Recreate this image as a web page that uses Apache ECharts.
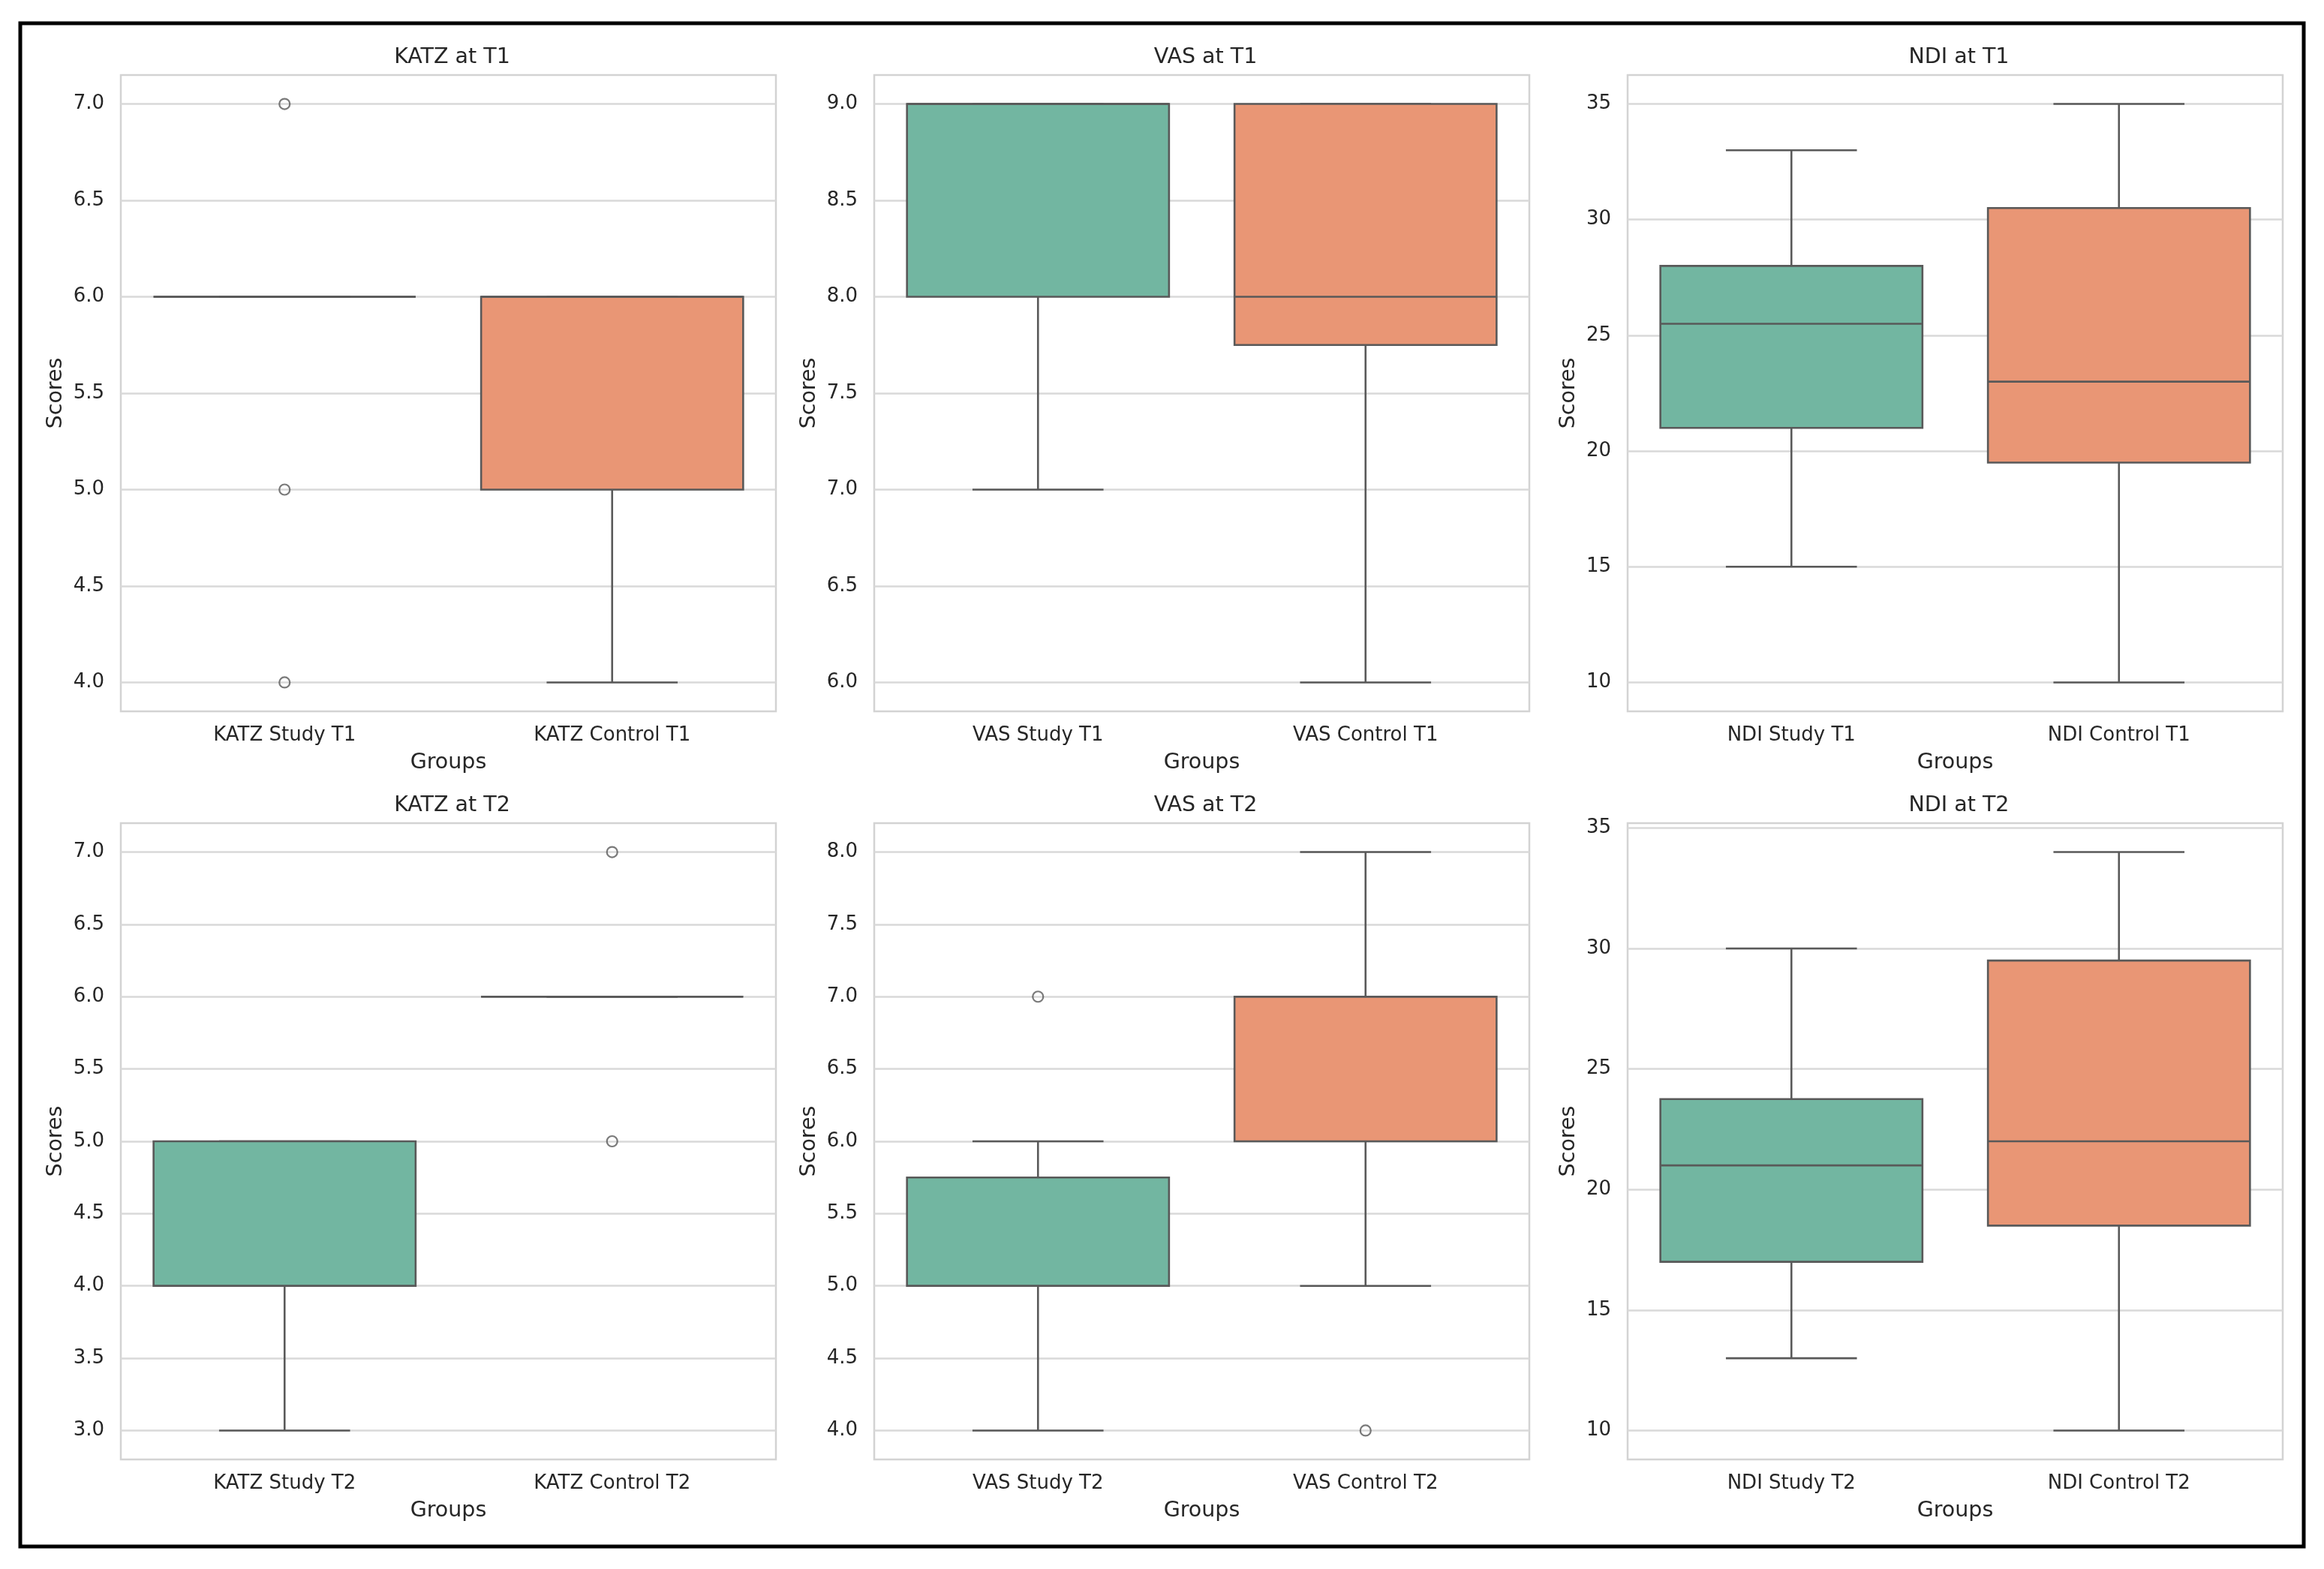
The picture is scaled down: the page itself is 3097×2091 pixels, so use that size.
<!DOCTYPE html>
<html>
<head>
<meta charset="utf-8">
<script src="https://cdn.jsdelivr.net/npm/echarts@6/dist/echarts.min.js"></script>
<style>
html,body{margin:0;padding:0;background:#fff;}
#chart{width:3097px;height:2091px;}
</style>
</head>
<body>
<div id="chart"></div>
<script>
// ---------------- DATA ----------------
const panelTitles = ['KATZ at T1', 'VAS at T1', 'NDI at T1', 'KATZ at T2', 'VAS at T2', 'NDI at T2'];

const katzT1Categories = ['KATZ Study T1', 'KATZ Control T1'];
const vasT1Categories  = ['VAS Study T1', 'VAS Control T1'];
const ndiT1Categories  = ['NDI Study T1', 'NDI Control T1'];
const katzT2Categories = ['KATZ Study T2', 'KATZ Control T2'];
const vasT2Categories  = ['VAS Study T2', 'VAS Control T2'];
const ndiT2Categories  = ['NDI Study T2', 'NDI Control T2'];

// box stats per group: [lower whisker, Q1, median, Q3, upper whisker]
const katzT1Boxes = [[6, 6, 6, 6, 6], [4, 5, 6, 6, 6]];
const vasT1Boxes  = [[7, 8, 9, 9, 9], [6, 7.75, 8, 9, 9]];
const ndiT1Boxes  = [[15, 21, 25.5, 28, 33], [10, 19.5, 23, 30.5, 35]];
const katzT2Boxes = [[3, 4, 4, 5, 5], [6, 6, 6, 6, 6]];
const vasT2Boxes  = [[4, 5, 5, 5.75, 6], [5, 6, 7, 7, 8]];
const ndiT2Boxes  = [[13, 17, 21, 23.75, 30], [10, 18.5, 22, 29.5, 34]];

// outliers: [group index, value]
const katzT1Outliers = [[0, 7], [0, 5], [0, 4]];
const vasT1Outliers  = [];
const ndiT1Outliers  = [];
const katzT2Outliers = [[1, 7], [1, 5]];
const vasT2Outliers  = [[0, 7], [1, 4]];
const ndiT2Outliers  = [];

// tick values
const katzT1Ticks = [4.0, 4.5, 5.0, 5.5, 6.0, 6.5, 7.0];
const vasT1Ticks  = [6.0, 6.5, 7.0, 7.5, 8.0, 8.5, 9.0];
const ndiT1Ticks  = [10, 15, 20, 25, 30, 35];
const katzT2Ticks = [3.0, 3.5, 4.0, 4.5, 5.0, 5.5, 6.0, 6.5, 7.0];
const vasT2Ticks  = [4.0, 4.5, 5.0, 5.5, 6.0, 6.5, 7.0, 7.5, 8.0];
const ndiT2Ticks  = [10, 15, 20, 25, 30, 35];

const groupColors = ['#72b6a1', '#e99675'];

// ---------------- BUILD ----------------
const panels = [
  {cats: katzT1Categories, boxes: katzT1Boxes, out: katzT1Outliers, ticks: katzT1Ticks, dec: 1},
  {cats: vasT1Categories,  boxes: vasT1Boxes,  out: vasT1Outliers,  ticks: vasT1Ticks,  dec: 1},
  {cats: ndiT1Categories,  boxes: ndiT1Boxes,  out: ndiT1Outliers,  ticks: ndiT1Ticks,  dec: 0},
  {cats: katzT2Categories, boxes: katzT2Boxes, out: katzT2Outliers, ticks: katzT2Ticks, dec: 1},
  {cats: vasT2Categories,  boxes: vasT2Boxes,  out: vasT2Outliers,  ticks: vasT2Ticks,  dec: 1},
  {cats: ndiT2Categories,  boxes: ndiT2Boxes,  out: ndiT2Outliers,  ticks: ndiT2Ticks,  dec: 0}
];

const FONT = 'DejaVu Sans';
const TXT = '#262626';
const LINE = '#595959';
const colLefts = [161, 1165, 2169];
const rowTops = [100, 1097];
const GW = 873, GH = 848;

const grids = [], xAxes = [], yAxes = [], series = [], titles = [];

panels.forEach((p, i) => {
  const col = i % 3, row = Math.floor(i / 3);
  grids.push({left: colLefts[col], top: rowTops[row], width: GW, height: GH,
    show: true, borderColor: '#d3d3d3', borderWidth: 2.5, backgroundColor: 'transparent', containLabel: false});

  // data extent with 5% padding (matplotlib style margins)
  let vals = [];
  p.boxes.forEach(b => vals = vals.concat(b));
  p.out.forEach(o => vals.push(o[1]));
  const dmin = Math.min(...vals), dmax = Math.max(...vals);
  const pad = (dmax - dmin) * 0.05;

  titles.push({text: panelTitles[i], left: colLefts[col] + GW / 2, top: rowTops[row] - 43,
    textAlign: 'center', textStyle: {fontFamily: FONT, fontSize: 28.5, fontWeight: 'normal', color: TXT}});

  xAxes.push({gridIndex: i, type: 'category', data: p.cats, boundaryGap: true,
    name: 'Groups', nameLocation: 'middle', nameGap: 54,
    nameTextStyle: {fontFamily: FONT, fontSize: 28.5, color: TXT},
    axisLine: {show: false}, axisTick: {show: false},
    axisLabel: {fontFamily: FONT, fontSize: 26, color: TXT, margin: 19},
    splitLine: {show: false}});

  yAxes.push({gridIndex: i, type: 'value', min: dmin - pad, max: dmax + pad,
    name: 'Scores', nameLocation: 'middle', nameGap: p.dec ? 72 : 64,
    nameTextStyle: {fontFamily: FONT, fontSize: 28.5, color: TXT},
    axisLine: {show: false},
    axisTick: {show: false, customValues: p.ticks},
    axisLabel: {customValues: p.ticks, fontFamily: FONT, fontSize: 26, color: TXT, margin: 22,
      formatter: v => Number(v).toFixed(p.dec)},
    splitLine: {show: false}});

  // grid lines drawn at tick values
  series.push({type: 'line', xAxisIndex: i, yAxisIndex: i, data: [], silent: true,
    markLine: {silent: true, symbol: ['none', 'none'], label: {show: false},
      lineStyle: {color: '#d9d9d9', width: 2.5, type: 'solid'},
      emphasis: {disabled: true},
      data: p.ticks.map(t => ({yAxis: t}))},
    z: 1});

  series.push({type: 'custom', xAxisIndex: i, yAxisIndex: i, z: 5,
    data: p.boxes.map((b, k) => [k].concat(b)),
    renderItem: function (params, api) {
      const k = api.value(0);
      const lo = api.coord([k, api.value(1)]);
      const q1 = api.coord([k, api.value(2)]);
      const md = api.coord([k, api.value(3)]);
      const q3 = api.coord([k, api.value(4)]);
      const hi = api.coord([k, api.value(5)]);
      const band = api.size([1, 0])[0];
      const bw = band * 0.8, cw = bw * 0.5, cx = lo[0];
      const ls = {stroke: LINE, lineWidth: 2.6};
      return {type: 'group', children: [
        {type: 'line', shape: {x1: cx, y1: q1[1], x2: cx, y2: lo[1]}, style: ls},
        {type: 'line', shape: {x1: cx, y1: q3[1], x2: cx, y2: hi[1]}, style: ls},
        {type: 'line', shape: {x1: cx - cw / 2, y1: lo[1], x2: cx + cw / 2, y2: lo[1]}, style: ls},
        {type: 'line', shape: {x1: cx - cw / 2, y1: hi[1], x2: cx + cw / 2, y2: hi[1]}, style: ls},
        {type: 'rect', shape: {x: cx - bw / 2, y: q3[1], width: bw, height: q1[1] - q3[1]},
          style: {fill: groupColors[k], stroke: LINE, lineWidth: 2.6}},
        {type: 'line', shape: {x1: cx - bw / 2, y1: md[1], x2: cx + bw / 2, y2: md[1]}, style: ls}
      ]};
    }});

  series.push({type: 'scatter', xAxisIndex: i, yAxisIndex: i, z: 6,
    data: p.out, symbol: 'circle', symbolSize: 14,
    itemStyle: {color: 'rgba(255,255,255,0)', borderColor: LINE, borderWidth: 2.2}});
});

const chart = echarts.init(document.getElementById('chart'), null, {renderer: 'canvas'});
chart.setOption({
  backgroundColor: '#ffffff',
  animation: false,
  title: titles,
  grid: grids,
  xAxis: xAxes,
  yAxis: yAxes,
  series: series,
  graphic: [{type: 'rect', shape: {x: 27, y: 31, width: 3043, height: 2030},
    style: {fill: 'none', stroke: '#000', lineWidth: 5}, silent: true, z: 100}]
});
</script>
</body>
</html>
